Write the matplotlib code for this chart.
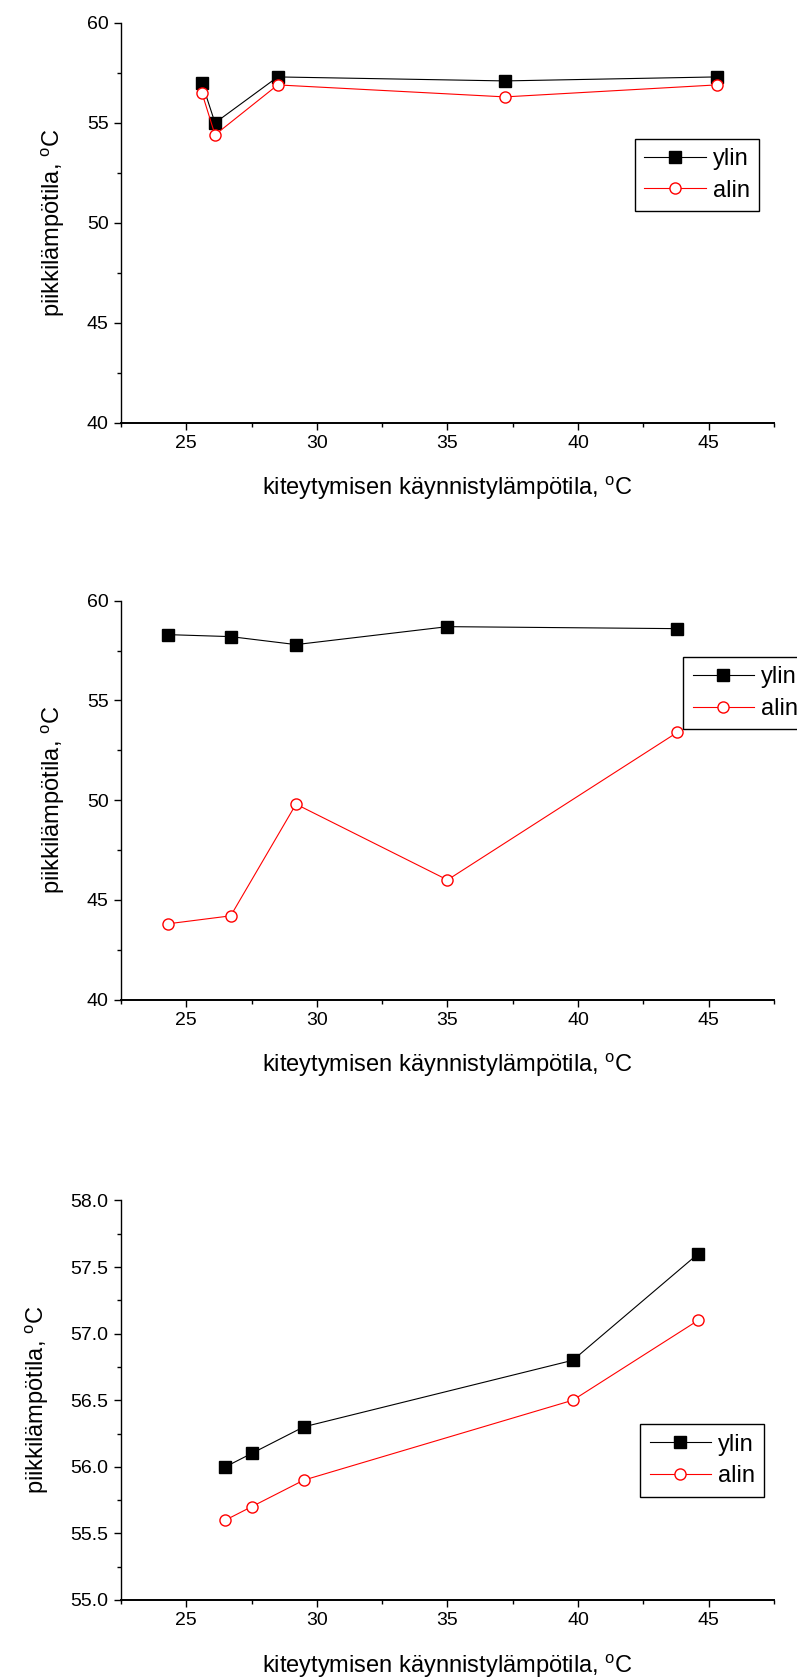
import matplotlib
matplotlib.use('Agg')
import matplotlib.pyplot as plt
from matplotlib.ticker import MultipleLocator, FormatStrFormatter

plt.rcParams['font.family'] = ['Liberation Sans', 'DejaVu Sans']
plt.rcParams['mathtext.fontset'] = 'custom'
plt.rcParams['mathtext.rm'] = 'Liberation Sans'

# kiteytymisen käynnistyslämpötila (x) ja piikkilämpötilat (ylin / alin)
x1 = [25.6, 26.1, 28.5, 37.2, 45.3]
ylin1 = [57.0, 55.0, 57.3, 57.1, 57.3]
alin1 = [56.5, 54.4, 56.9, 56.3, 56.9]

x2 = [24.3, 26.7, 29.2, 35.0, 43.8]
ylin2 = [58.3, 58.2, 57.8, 58.7, 58.6]
alin2 = [43.8, 44.2, 49.8, 46.0, 53.4]

x3 = [26.5, 27.5, 29.5, 39.8, 44.6]
ylin3 = [56.0, 56.1, 56.3, 56.8, 57.6]
alin3 = [55.6, 55.7, 55.9, 56.5, 57.1]

xlabel = 'kiteytymisen käynnistylämpötila, $^\\mathrm{o}$C'
ylabel = 'piikkilämpötila, $^\\mathrm{o}$C'

fig = plt.figure(figsize=(7.97, 16.78), dpi=100)

panels = [
    (x1, ylin1, alin1, (40, 60), 5, 2.5, '%d', [0.1518, 0.7482, 0.8193, 0.2381], (0.787, 0.71)),
    (x2, ylin2, alin2, (40, 60), 5, 2.5, '%d', [0.1518, 0.4043, 0.8193, 0.2377], (0.861, 0.859)),
    (x3, ylin3, alin3, (55, 58), 0.5, 0.25, '%.1f', [0.1518, 0.0465, 0.8193, 0.2381], (0.795, 0.44)),
]

for x, ylin, alin, ylim, ymaj, ymin, yfmt, rect, legpos in panels:
    ax = fig.add_axes(rect)
    ax.plot(x, ylin, color='black', lw=0.8, marker='s', ms=8,
            mfc='black', mec='black', label='ylin')
    ax.plot(x, alin, color='red', lw=0.8, marker='o', ms=8,
            mfc='white', mec='red', mew=1.0, label='alin')
    ax.set_xlim(22.5, 47.5)
    ax.set_ylim(*ylim)
    ax.xaxis.set_major_locator(MultipleLocator(5))
    ax.xaxis.set_minor_locator(MultipleLocator(2.5))
    ax.yaxis.set_major_locator(MultipleLocator(ymaj))
    ax.yaxis.set_minor_locator(MultipleLocator(ymin))
    ax.yaxis.set_major_formatter(FormatStrFormatter(yfmt))
    ax.spines['top'].set_visible(False)
    ax.spines['right'].set_visible(False)
    ax.spines['left'].set_linewidth(1.0)
    ax.spines['bottom'].set_linewidth(1.4)
    ax.tick_params(which='major', direction='out', length=5, width=1.0,
                   labelsize=14, pad=4)
    ax.tick_params(which='minor', direction='out', length=3, width=1.0)
    ax.set_xlabel(xlabel, fontsize=17, labelpad=16)
    ax.set_ylabel(ylabel, fontsize=17, labelpad=14)
    leg = ax.legend(loc='upper left', bbox_to_anchor=legpos, fontsize=17,
                    frameon=True, fancybox=False, edgecolor='black',
                    framealpha=1, handlelength=2.6, handletextpad=0.3,
                    borderpad=0.4, labelspacing=0.4, borderaxespad=0)
    leg.get_frame().set_linewidth(1.0)
    leg.set_clip_on(False)

fig.savefig('out.png', dpi=100)
